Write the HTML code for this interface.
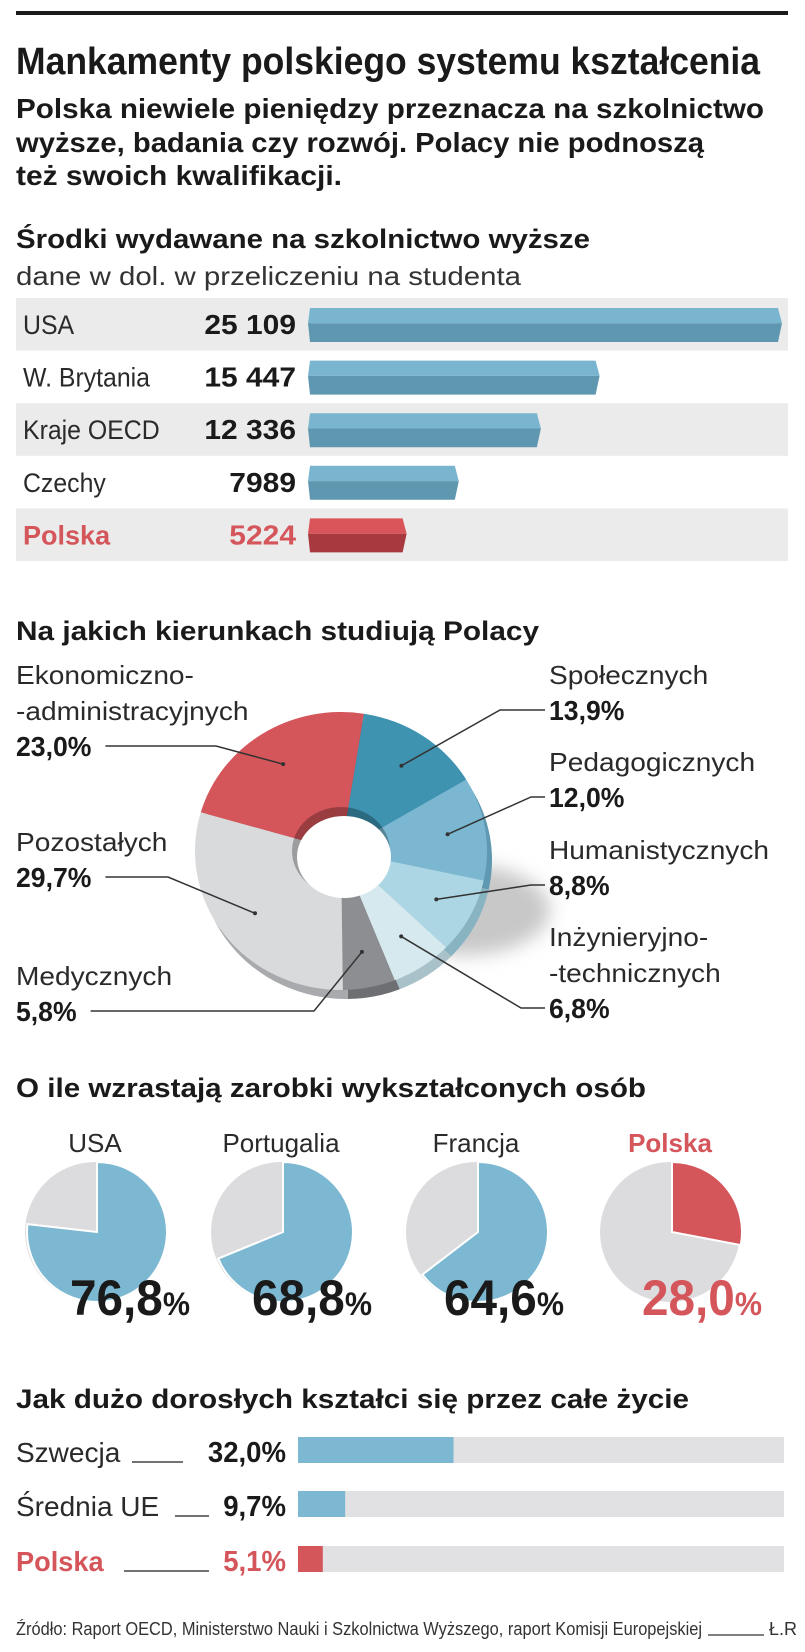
<!DOCTYPE html>
<html><head><meta charset="utf-8">
<style>
html,body{margin:0;padding:0;background:#fff;}
svg{display:block;font-family:"Liberation Sans","DejaVu Sans",sans-serif;}
</style></head>
<body>
<svg id="page" width="805" height="1652" viewBox="0 0 805 1652" xmlns="http://www.w3.org/2000/svg">
<defs>
<filter id="blur" x="-50%" y="-50%" width="200%" height="200%"><feGaussianBlur stdDeviation="9"/></filter>
</defs>
<rect width="805" height="1652" fill="#fff"/>
<rect x="16" y="11" width="772" height="4" fill="#1a1a1a"/>
<text x="16" y="74" font-size="38" font-weight="bold" fill="#1a1a1a" textLength="744" lengthAdjust="spacingAndGlyphs">Mankamenty polskiego systemu kształcenia</text>
<g font-size="28" font-weight="bold" fill="#1a1a1a">
<text x="16" y="118" textLength="748" lengthAdjust="spacingAndGlyphs">Polska niewiele pieniędzy przeznacza na szkolnictwo</text>
<text x="16" y="152" textLength="688" lengthAdjust="spacingAndGlyphs">wyższe, badania czy rozwój. Polacy nie podnoszą</text>
<text x="16" y="185" textLength="326" lengthAdjust="spacingAndGlyphs">też swoich kwalifikacji.</text>
</g>

<text x="16" y="248" font-size="27" font-weight="bold" fill="#1a1a1a" textLength="574" lengthAdjust="spacingAndGlyphs">Środki wydawane na szkolnictwo wyższe</text>
<text x="16" y="285" font-size="26" fill="#333" textLength="505" lengthAdjust="spacingAndGlyphs">dane w dol. w przeliczeniu na studenta</text>
<g id="spend"></g>

<text x="16" y="640" font-size="27" font-weight="bold" fill="#1a1a1a" textLength="523" lengthAdjust="spacingAndGlyphs">Na jakich kierunkach studiują Polacy</text>
<ellipse cx="465" cy="910" rx="85" ry="45" fill="#c8c8c8" filter="url(#blur)"/>
<g id="donut"></g>
<g id="donutLabels" font-size="26" fill="#2a2a2a"></g>

<text x="16" y="1097" font-size="27" font-weight="bold" fill="#1a1a1a" textLength="630" lengthAdjust="spacingAndGlyphs">O ile wzrastają zarobki wykształconych osób</text>
<g id="pies"></g>

<text x="16" y="1408" font-size="27" font-weight="bold" fill="#1a1a1a" textLength="673" lengthAdjust="spacingAndGlyphs">Jak dużo dorosłych kształci się przez całe życie</text>
<g id="learn"></g>

<text x="16" y="1635" font-size="18" fill="#333" textLength="686" lengthAdjust="spacingAndGlyphs">Źródło: Raport OECD, Ministerstwo Nauki i Szkolnictwa Wyższego, raport Komisji Europejskiej</text>
<line x1="708" y1="1635" x2="764" y2="1635" stroke="#555" stroke-width="1.5"/>
<text x="769" y="1635" font-size="18" fill="#333">Ł.R</text>
</svg>
<script>
const NS="http://www.w3.org/2000/svg";
// ---- spending chart data
const spendCountries=["USA","W. Brytania","Kraje OECD","Czechy","Polska"];
const spendValues=[25109,15447,12336,7989,5224];
const spendLabels=["25 109","15 447","12 336","7989","5224"];
// ---- donut data (clockwise from top)
const fieldNames=["Społecznych","Pedagogicznych","Humanistycznych","Inżynieryjno-technicznych","Medycznych","Pozostałych","Ekonomiczno-administracyjnych"];
const fieldValues=[13.9,12.0,8.8,6.8,5.8,29.7,23.0];
const fieldLabels=["13,9%","12,0%","8,8%","6,8%","5,8%","29,7%","23,0%"];
// ---- earnings pies
const pieCountries=["USA","Portugalia","Francja","Polska"];
const pieValues=[76.8,68.8,64.6,28.0];
const pieLabels=["76,8","68,8","64,6","28,0"];
// ---- lifelong learning
const learnCountries=["Szwecja","Średnia UE","Polska"];
const learnValues=[32.0,9.7,5.1];
const learnLabels=["32,0%","9,7%","5,1%"];

function mk(tag,attrs,parent){const e=document.createElementNS(NS,tag);for(const k in attrs)e.setAttribute(k,attrs[k]);if(parent)parent.appendChild(e);return e;}
function stretch(t,k){const w=t.getComputedTextLength();if(w>0){t.setAttribute('textLength',(w*k).toFixed(1));t.setAttribute('lengthAdjust','spacingAndGlyphs');}}
const RED="#d4555a";

// ---------- spending bars
(function(){
  const g=document.getElementById('spend');
  const top0=298,rowH=52.6,x0=308,maxW=474;
  const xs=v=>v/spendValues[0]*maxW;
  spendCountries.forEach((c,i)=>{
    const y=top0+i*rowH, pl=i===spendCountries.length-1;
    if(i%2===0){const b=mk('rect',{x:16,y:y,width:772,height:rowH,fill:'#ebebeb'},g);
      
      }
    const t=mk('text',{x:23,y:y+36,'font-size':27,fill:pl?RED:'#2a2a2a','font-weight':pl?'bold':'normal'},g);t.textContent=c;
    
    
    stretch(t,pl?1.0:0.92);
    const v=mk('text',{x:296,y:y+36,'font-size':28,'font-weight':'bold','text-anchor':'end',fill:pl?RED:'#1a1a1a'},g);v.textContent=spendLabels[i];
    
    
    stretch(v,1.07);
    const w=xs(spendValues[i]), by=y+10, h=34, x1=x0+w;
    const bar=mk('g',{},g);
    
    
    mk('polygon',{points:`${x0+2},${by} ${x1-4},${by} ${x1},${by+h*0.45} ${x0},${by+h*0.45}`,fill:pl?'#d9555a':'#7ab5cf'},bar);
    mk('polygon',{points:`${x0},${by+h*0.45} ${x1},${by+h*0.45} ${x1-4},${by+h} ${x0+2},${by+h}`,fill:pl?'#a8393e':'#5f97b0'},bar);
  });
})();

// ---------- donut
(function(){
  const g=document.getElementById('donut');
  const cx=341,cy=851,rx=146,ry=139,start=9;
  const cols=["#3e93b1","#7bb7d1","#add6e4","#d5e9ef","#8d8e91","#d9dadc",RED];
  const dcols=["#2f7590","#5e98b1","#88b3c1","#a9c2c9","#6e6f72","#a9aaad","#a83a3e"];
  const pt=(a,sx,sy,ox,oy)=>{const r=a*Math.PI/180;return [cx+ox+sx*Math.sin(r),cy+oy-sy*Math.cos(r)];};
  function wedge(a0,a1,ox,oy,fill,name){
    const p0=pt(a0,rx,ry,ox,oy),p1=pt(a1,rx,ry,ox,oy);
    const lg=(a1-a0)>180?1:0;
    const p=mk('path',{d:`M${cx+ox},${cy+oy} L${p0[0]},${p0[1]} A${rx},${ry} 0 ${lg} 1 ${p1[0]},${p1[1]} Z`,fill:fill},g);
    
    
    return p;
  }
  let a=start; const mids=[];
  fieldValues.forEach((v,i)=>{const s=v/100*360;wedge(a,a+s,5,9,dcols[i],'donut-side');a+=s;});
  a=start;
  fieldValues.forEach((v,i)=>{const s=v/100*360;wedge(a,a+s,0,0,cols[i],'donut-slice');mids.push(a+s/2);a+=s;});
  mk('ellipse',{cx:cx,cy:cy,rx:49,ry:44,fill:'rgba(0,0,0,0.28)'},g);
  const hole=mk('ellipse',{cx:cx+3,cy:cy+6,rx:47,ry:41,fill:'#fff'},g);
  
  

  const L=document.getElementById('donutLabels');
  const spec=[
    {lines:["Społecznych"],x:549,y:684,side:1,ex:500},
    {lines:["Pedagogicznych"],x:549,y:771,side:1,ex:531},
    {lines:["Humanistycznych"],x:549,y:859,side:1,ex:531},
    {lines:["Inżynieryjno-","-technicznych"],x:549,y:946,side:1,ex:521},
    {lines:["Medycznych"],x:16,y:985,side:0,ex:314},
    {lines:["Pozostałych"],x:16,y:851,side:0,ex:168},
    {lines:["Ekonomiczno-","-administracyjnych"],x:16,y:684,side:0,ex:216}
  ];
  spec.forEach((s,i)=>{
    let y=s.y;
    s.lines.forEach(l=>{const t=mk('text',{x:s.x,y:y},L);t.textContent=l;
      
      
      stretch(t,1.08);
      y+=36;});
    const pv=mk('text',{x:s.x,y:y,'font-weight':'bold','font-size':28,fill:'#1a1a1a'},L);pv.textContent=fieldLabels[i];
    
    
    stretch(pv,0.95);
    const m=pt(mids[i],rx*0.74,ry*0.74,0,0);
    const lx=s.side?545:(s.x+pv.getComputedTextLength()+14);
    const ly=y-10;
    const ln=mk('polyline',{points:`${lx},${ly} ${s.ex},${ly} ${m[0]},${m[1]}`,fill:'none',stroke:'#333','stroke-width':1.5},L);
    
    
    const d=mk('circle',{cx:m[0],cy:m[1],r:2,fill:'#333'},L);
    
    
  });
})();

// ---------- pies
(function(){
  const g=document.getElementById('pies');
  const centers=[95,281,476,670], cy=1232, r=70;
  const txtX=[70,252,444,642];
  pieCountries.forEach((c,i)=>{
    const pl=c==="Polska";
    const lab=mk('text',{x:centers[i],y:1152,'font-size':26,'text-anchor':'middle',fill:pl?RED:'#2a2a2a','font-weight':pl?'bold':'normal'},g);lab.textContent=c;
    
    
    const cx=centers[i];
    const bg=mk('circle',{cx:cx,cy:cy,r:r,fill:'#dcdcde'},g);
    
    
    const a=pieValues[i]/100*2*Math.PI;
    const x1=cx+r*Math.sin(a),y1=cy-r*Math.cos(a);
    const sl=mk('path',{d:`M${cx+2},${cy} L${cx+2},${cy-r} A${r},${r} 0 ${pieValues[i]>50?1:0} 1 ${x1+2},${y1} Z`,fill:pl?RED:'#7db8d2',stroke:'#fff','stroke-width':2},g);
    
    
    const t=mk('text',{x:txtX[i],y:1315,'font-size':50,'font-weight':'bold',fill:pl?RED:'#1a1a1a',textLength:120,lengthAdjust:'spacingAndGlyphs'},g);
    
    
    t.textContent=pieLabels[i];
    const ts=mk('tspan',{'font-size':32},t);ts.textContent="%";
  });
})();

// ---------- lifelong learning
(function(){
  const g=document.getElementById('learn');
  const x0=298,W=486,tops=[1437,1491,1546],h=26;
  const dash=[[132,183],[175,209],[124,209]];
  learnCountries.forEach((c,i)=>{
    const pl=c==="Polska", y=tops[i];
    const t=mk('text',{x:16,y:y+25,'font-size':28,fill:pl?RED:'#2a2a2a','font-weight':pl?'bold':'normal'},g);t.textContent=c;
    
    
    stretch(t,pl?0.97:1.0);
    const d=mk('line',{x1:dash[i][0],y1:y+25,x2:dash[i][1],y2:y+25,stroke:'#444','stroke-width':1.5},g);
    
    
    const v=mk('text',{x:286,y:y+25,'font-size':29,'font-weight':'bold','text-anchor':'end',fill:pl?RED:'#1a1a1a'},g);v.textContent=learnLabels[i];
    
    
    stretch(v,0.95);
    const bg=mk('rect',{x:x0,y:y,width:W,height:h,fill:'#e1e1e3'},g);
    
    
    const b=mk('rect',{x:x0,y:y,width:learnValues[i]/100*W,height:h,fill:pl?RED:'#7db8d2'},g);
    
    
  });
})();
</script>
</body></html>
